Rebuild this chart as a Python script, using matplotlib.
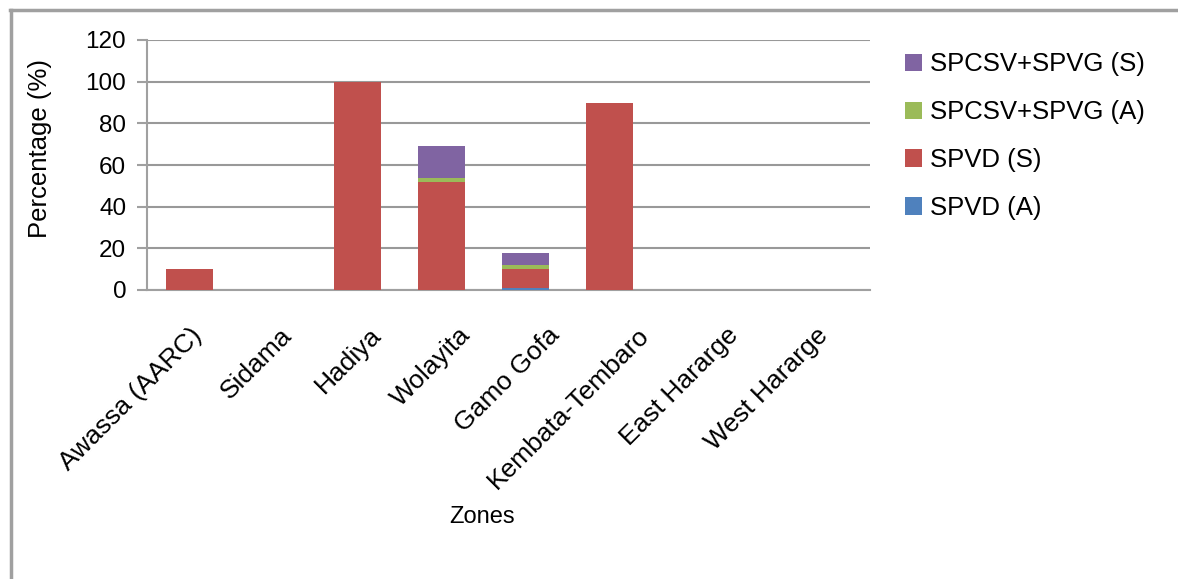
import numpy as np
import matplotlib
matplotlib.use("Agg")
import matplotlib.pyplot as plt
import matplotlib.transforms as mtransforms
from matplotlib.lines import Line2D

zones = ["Awassa (AARC)", "Sidama", "Hadiya", "Wolayita", "Gamo Gofa",
         "Kembata-Tembaro", "East Hararge", "West Hararge"]
spvd_a = [0, 0, 0, 0, 1, 0, 0, 0]
spvd_s = [10, 0, 100, 52, 9, 90, 0, 0]
spcsv_a = [0, 0, 0, 2, 2, 0, 0, 0]
spcsv_s = [0, 0, 0, 15, 6, 0, 0, 0]

series = [("SPVD (A)", spvd_a, "#4F81BD"),
          ("SPVD (S)", spvd_s, "#C0504D"),
          ("SPCSV+SPVG (A)", spcsv_a, "#9BBB59"),
          ("SPCSV+SPVG (S)", spcsv_s, "#8064A2")]

plt.rcParams['font.family'] = ['Liberation Sans', 'DejaVu Sans']

W, H = 1178, 579
fig = plt.figure(figsize=(W / 100, H / 100), dpi=100)
ax = fig.add_axes([147 / W, 1 - 290 / H, (870 - 147) / W, 250 / H])

x = np.arange(len(zones))
bottom = np.zeros(len(zones))
handles = []
for name, vals, col in series:
    vals = np.array(vals, dtype=float)
    b = ax.bar(x, vals, 0.56, bottom=bottom, color=col, label=name, zorder=3)
    bottom += vals
    handles.append(b)

ax.set_ylim(0, 120)
ax.set_yticks(np.arange(0, 121, 20))
ax.set_xlim(-0.5, 8.09)
ax.set_xticks(x)
ax.set_xticklabels([])
ax.tick_params(axis="x", length=0)
ax.tick_params(axis="y", length=7, color="#A0A0A0", width=1.5, labelsize=17.5, pad=8)
ax.yaxis.grid(True, color="#999999", linewidth=1.5, zorder=0)
for s in ["top", "right"]:
    ax.spines[s].set_visible(False)
for s in ["left", "bottom"]:
    ax.spines[s].set_color("#A0A0A0")
    ax.spines[s].set_linewidth(1.5)

# category labels, rotated like the original (slightly wider spacing than bars)
lab_tr = ax.get_xaxis_transform() + mtransforms.ScaledTranslation(
    0, -33 / 100, fig.dpi_scale_trans)
for i, z in enumerate(zones):
    ax.text(0.01 + 1.062 * i, 0, z, transform=lab_tr, rotation=45,
            ha="right", va="top", rotation_mode="anchor", fontsize=19)

fig.text(40 / W, 1 - 149 / H, "Percentage (%)", fontsize=18.5, rotation=90,
         ha="center", va="center")
fig.text(482 / W, 1 - 517 / H, "Zones", fontsize=17, ha="center", va="center")

leg = ax.legend(handles[::-1], [s[0] for s in series][::-1],
                loc="upper left", bbox_to_anchor=(895 / W, 1 - 42 / H),
                bbox_transform=fig.transFigure, frameon=False, fontsize=18.5,
                handlelength=0.65, handleheight=0.65, handletextpad=0.3,
                labelspacing=0.93, borderaxespad=0)

# outer frame
fig.add_artist(Line2D([10 / W, 1], [1 - 10 / H] * 2, color="#A0A0A0", lw=2.5))
fig.add_artist(Line2D([11 / W] * 2, [0, 1 - 10 / H], color="#A0A0A0", lw=2.5))

fig.savefig("out.png", dpi=100, facecolor="white")
